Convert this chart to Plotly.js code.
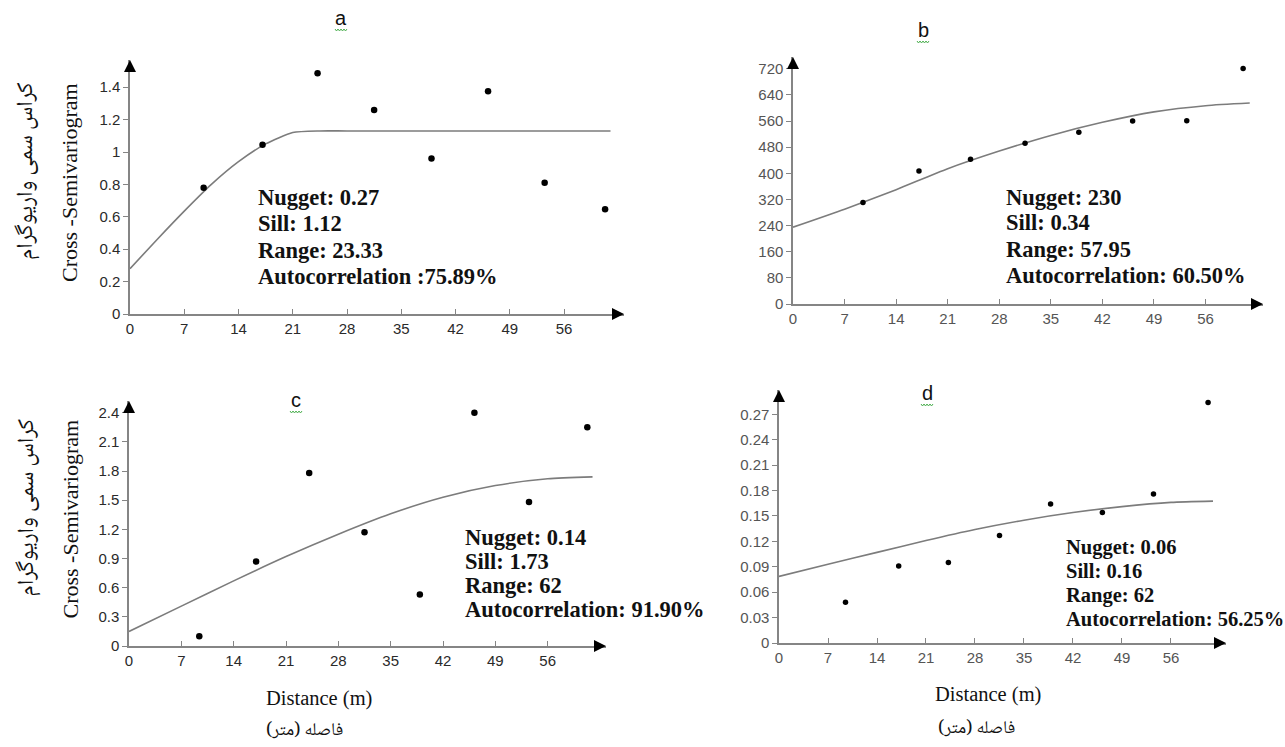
<!DOCTYPE html>
<html>
<head>
<meta charset="utf-8">
<script src="https://cdn.plot.ly/plotly-3.0.1.min.js"></script>
<style>
html,body{margin:0;padding:0;background:#fff;}
#chart{width:1285px;height:747px;}
</style>
</head>
<body>
<div id="chart"></div>
<script>
// ---------------- DATA ----------------
const panelLetters = ['a', 'b', 'c', 'd'];

// experimental cross-semivariogram points (lag distance, value)
const lagA   = [9.5, 17.1, 24.2, 31.5, 38.9, 46.2, 53.5, 61.3];
const gammaA = [0.78, 1.045, 1.486, 1.26, 0.96, 1.375, 0.81, 0.646];

const lagB   = [9.5, 17.1, 24.1, 31.5, 38.8, 46.1, 53.45, 61.1];
const gammaB = [311, 407, 443, 492, 526, 560, 561, 721];

const lagC   = [9.4, 17.0, 24.1, 31.5, 38.9, 46.2, 53.5, 61.3];
const gammaC = [0.10, 0.87, 1.78, 1.17, 0.53, 2.40, 1.48, 2.25];

const lagD   = [9.5, 17.1, 24.2, 31.5, 38.8, 46.2, 53.5, 61.3];
const gammaD = [0.048, 0.091, 0.095, 0.127, 0.164, 0.154, 0.176, 0.284];

// fitted model curves at regular distances
const modelXA = [0, 3.5, 7, 10.5, 14, 17.5, 21, 24.5, 28, 62];
const modelYA = [0.28, 0.46, 0.635, 0.80, 0.94, 1.05, 1.12, 1.13, 1.13, 1.13];

const modelXB = [0, 7, 14, 21, 28, 35, 42, 49, 56, 62];
const modelYB = [235, 290, 350, 414, 468, 516, 556, 588, 607, 615];

const modelXC = [0, 7, 14, 21, 28, 35, 42, 49, 56, 62];
const modelYC = [0.15, 0.41, 0.67, 0.92, 1.15, 1.36, 1.53, 1.65, 1.72, 1.74];

const modelXD = [0, 7, 14, 21, 28, 35, 42, 49, 56, 62];
const modelYD = [0.0786, 0.093, 0.107, 0.121, 0.134, 0.145, 0.154, 0.161, 0.166, 0.1675];

// model statistics text
const statsA = ['Nugget: 0.27', 'Sill: 1.12', 'Range: 23.33', 'Autocorrelation :75.89%'];
const statsB = ['Nugget: 230', 'Sill: 0.34', 'Range: 57.95', 'Autocorrelation: 60.50%'];
const statsC = ['Nugget: 0.14', 'Sill: 1.73', 'Range: 62', 'Autocorrelation: 91.90%'];
const statsD = ['Nugget: 0.06', 'Sill: 0.16', 'Range: 62', 'Autocorrelation: 56.25%'];

// tick labels
const xTickVals = [0, 7, 14, 21, 28, 35, 42, 49, 56];
const xTickText = ['0', '7', '14', '21', '28', '35', '42', '49', '56'];
const yTickValsA = [0, 0.2, 0.4, 0.6, 0.8, 1, 1.2, 1.4];
const yTickTextA = ['0', '0.2', '0.4', '0.6', '0.8', '1', '1.2', '1.4'];
const yTickValsB = [0, 80, 160, 240, 320, 400, 480, 560, 640, 720];
const yTickTextB = ['0', '80', '160', '240', '320', '400', '480', '560', '640', '720'];
const yTickValsC = [0, 0.3, 0.6, 0.9, 1.2, 1.5, 1.8, 2.1, 2.4];
const yTickTextC = ['0', '0.3', '0.6', '0.9', '1.2', '1.5', '1.8', '2.1', '2.4'];
const yTickValsD = [0, 0.03, 0.06, 0.09, 0.12, 0.15, 0.18, 0.21, 0.24, 0.27];
const yTickTextD = ['0', '0.03', '0.06', '0.09', '0.12', '0.15', '0.18', '0.21', '0.24', '0.27'];

// axis titles
const yTitleEn = 'Cross -Semivariogram';
const yTitleFa = 'کراس سمی واریوگرام';
const xTitleEn = 'Distance (m)';
const xTitleFa = 'فاصله (متر)';

// ---------------- LAYOUT / STYLE ----------------
const W = 1285, H = 747;
const panels = [
  {lag: lagA, gamma: gammaA, mx: modelXA, my: modelYA, yv: yTickValsA, yt: yTickTextA, stats: statsA,
   box: {l: 130, r: 624, t: 60, b: 314}, xmax: 63.74, ymax: 1.568, tickColor: '#2a2a2a',
   statX: 256, statY: [198, 224, 251, 277], statSize: 22.5, title: [341, 18], msize: 6.5,
   yTitle: true, xTitle: false},
  {lag: lagB, gamma: gammaB, mx: modelXB, my: modelYB, yv: yTickValsB, yt: yTickTextB, stats: statsB,
   box: {l: 793, r: 1263, t: 57, b: 304}, xmax: 63.8, ymax: 756, tickColor: '#555',
   statX: 1004, statY: [198, 223, 250, 276], statSize: 22.5, title: [923, 30], msize: 5.5,
   yTitle: false, xTitle: false},
  {lag: lagC, gamma: gammaC, mx: modelXC, my: modelYC, yv: yTickValsC, yt: yTickTextC, stats: statsC,
   box: {l: 129, r: 606, t: 401, b: 646}, xmax: 63.8, ymax: 2.52, tickColor: '#2a2a2a',
   statX: 463, statY: [537, 561, 585, 609], statSize: 22.5, title: [296, 400], msize: 6.5,
   yTitle: true, xTitle: true, xTitlePos: [319, 698, 304, 731]},
  {lag: lagD, gamma: gammaD, mx: modelXD, my: modelYD, yv: yTickValsD, yt: yTickTextD, stats: statsD,
   box: {l: 779, r: 1226, t: 390, b: 643}, xmax: 63.86, ymax: 0.2987, tickColor: '#555',
   statX: 1064, statY: [547, 571, 595, 619], statSize: 20.5, title: [927, 393], msize: 5.5,
   yTitle: false, xTitle: true, xTitlePos: [988, 694, 976, 729]}
];

const traces = [];
const layout = {
  width: W, height: H, autosize: false,
  margin: {l: 0, r: 0, t: 0, b: 0, pad: 0},
  paper_bgcolor: '#fff', plot_bgcolor: 'rgba(0,0,0,0)',
  showlegend: false,
  annotations: [], shapes: []
};

const axisColor = '#858585';
const tickFontFamily = 'Liberation Sans, Arial, sans-serif';
const serif = 'Liberation Serif, Times New Roman, serif';
const faFont = 'Noto Naskh Arabic, Noto Sans Arabic, DejaVu Sans, serif';

panels.forEach((p, i) => {
  const n = i === 0 ? '' : String(i + 1);
  const xa = 'x' + n, ya = 'y' + n;

  traces.push({
    x: p.mx, y: p.my, xaxis: xa, yaxis: ya, type: 'scatter', mode: 'lines',
    line: {color: '#7c7c7c', width: 1.6, shape: 'spline', smoothing: 0.6},
    hoverinfo: 'skip'
  });
  traces.push({
    x: p.lag, y: p.gamma, xaxis: xa, yaxis: ya, type: 'scatter', mode: 'markers',
    marker: {color: '#000', size: p.msize}, cliponaxis: false
  });

  layout['xaxis' + n] = {
    domain: [p.box.l / W, p.box.r / W], range: [0, p.xmax], anchor: ya,
    showline: true, linecolor: axisColor, linewidth: 1.6, zeroline: false, showgrid: false,
    ticks: 'inside', ticklen: 5, tickwidth: 1, tickcolor: axisColor,
    tickmode: 'array', tickvals: xTickVals, ticktext: xTickText,
    tickfont: {family: tickFontFamily, size: 15, color: p.tickColor}, fixedrange: true
  };
  layout['yaxis' + n] = {
    domain: [1 - p.box.b / H, 1 - p.box.t / H], range: [0, p.ymax], anchor: xa,
    showline: true, linecolor: axisColor, linewidth: 1.6, zeroline: false, showgrid: false,
    ticks: 'outside', ticklen: 5, tickwidth: 1, tickcolor: axisColor,
    tickmode: 'array', tickvals: p.yv, ticktext: p.yt,
    tickfont: {family: tickFontFamily, size: 15, color: p.tickColor}, fixedrange: true
  };

  // arrow heads at the ends of the axes
  layout.annotations.push({
    xref: xa, yref: ya, x: p.xmax, y: 0, ax: -12, ay: 0,
    showarrow: true, arrowhead: 2, arrowsize: 1.6, arrowwidth: 1.5, arrowcolor: '#000',
    standoff: 0, text: ''
  });
  layout.annotations.push({
    xref: xa, yref: ya, x: 0, y: p.ymax, ax: 0, ay: 12,
    showarrow: true, arrowhead: 2, arrowsize: 1.6, arrowwidth: 1.5, arrowcolor: '#000',
    standoff: 0, text: ''
  });

  // statistics text
  p.stats.forEach((s, k) => {
    layout.annotations.push({
      xref: 'paper', yref: 'paper', x: p.statX / W, y: 1 - p.statY[k] / H,
      xanchor: 'left', yanchor: 'middle', showarrow: false,
      text: '<b>' + s + '</b>',
      font: {family: serif, size: p.statSize, color: '#111'}
    });
  });

  // panel letter + green spell-check squiggle
  layout.annotations.push({
    xref: 'paper', yref: 'paper', x: p.title[0] / W, y: 1 - p.title[1] / H,
    xanchor: 'center', yanchor: 'middle', showarrow: false,
    text: panelLetters[i], font: {family: tickFontFamily, size: 20, color: '#111'}
  });
  layout.shapes.push({
    type: 'path', xref: 'paper', yref: 'paper', xsizemode: 'pixel', ysizemode: 'pixel',
    xanchor: p.title[0] / W, yanchor: 1 - (p.title[1] + 11) / H,
    path: 'M-6,0 L-4.5,-2 L-3,0 L-1.5,-2 L0,0 L1.5,-2 L3,0 L4.5,-2 L6,0',
    line: {color: '#4caf50', width: 1}
  });

  if (p.yTitle) {
    const cy = (p.box.t + p.box.b) / 2;
    layout.annotations.push({
      xref: 'paper', yref: 'paper', x: 70 / W, y: 1 - (cy - 4) / H,
      xanchor: 'center', yanchor: 'middle', showarrow: false, textangle: -90,
      text: yTitleEn, font: {family: serif, size: 22, color: '#111'}
    });
    layout.annotations.push({
      xref: 'paper', yref: 'paper', x: 27 / W, y: 1 - (cy - 16) / H,
      xanchor: 'center', yanchor: 'middle', showarrow: false, textangle: -90,
      text: yTitleFa, font: {family: faFont, size: 23, color: '#111'}
    });
  }
  if (p.xTitle) {
    const t = p.xTitlePos;
    layout.annotations.push({
      xref: 'paper', yref: 'paper', x: t[0] / W, y: 1 - t[1] / H,
      xanchor: 'center', yanchor: 'middle', showarrow: false,
      text: xTitleEn, font: {family: serif, size: 20.5, color: '#111'}
    });
    layout.annotations.push({
      xref: 'paper', yref: 'paper', x: t[2] / W, y: 1 - t[3] / H,
      xanchor: 'center', yanchor: 'middle', showarrow: false,
      text: xTitleFa, font: {family: faFont, size: 18, color: '#111'}
    });
  }
});

Plotly.newPlot('chart', traces, layout, {displayModeBar: false, staticPlot: true});
</script>
</body>
</html>
